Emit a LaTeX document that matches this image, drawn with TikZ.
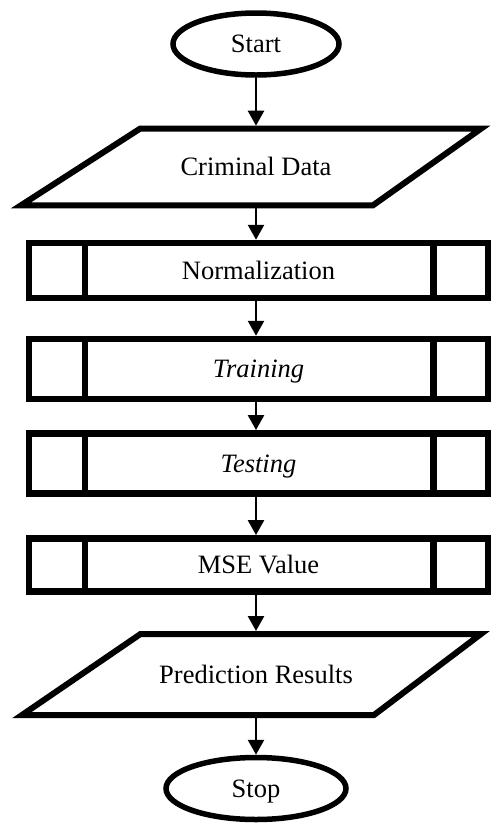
\documentclass[tikz,border=0pt]{standalone}
\usepackage{fontspec}
\setmainfont{Liberation Serif}
\usetikzlibrary{arrows.meta,shapes.geometric}
\begin{document}
\begin{tikzpicture}[x=1pt,y=1pt,
  every node/.style={font=\fontsize{26.5}{30}\selectfont, text height=17.5pt, text depth=0pt},
  terminal/.style={ellipse, draw, line width=5.5pt, minimum height=62pt, inner sep=0pt},
  iolabel/.style={rectangle, inner sep=0pt, outer sep=0pt, minimum width=10pt},
  iobox/.style={draw, line width=6pt, line join=miter},
  subproc/.style={rectangle, draw, line width=6.5pt, minimum width=459pt, inner sep=0pt},
  sideline/.style={line width=6.5pt},
  flow/.style={line width=2.5pt, -{Triangle[width=16pt,length=15pt]}}]
\useasboundingbox (0,0) rectangle (491,-823);

% terminals
\node[terminal, minimum width=166pt] (start) at (256,-44) {Start};
\node[terminal, minimum width=180pt] (stop) at (256,-788.5) {Stop};

% input / output parallelograms
\draw[iobox] (140,-128.7) -- (481,-128.7) -- (373,-205.3) -- (21,-205.3) -- cycle;
\node[iolabel, minimum height=82.6pt] (data) at (256,-167) {Criminal Data};

\draw[iobox] (140.5,-634) -- (481,-634) -- (374,-715) -- (22,-715) -- cycle;
\node[iolabel, minimum height=87pt] (pred) at (256,-674.5) {Prediction Results};

% predefined processes
\node[subproc, minimum height=55pt] (norm) at (258.5,-270.5) {Normalization};
\node[subproc, minimum height=60pt] (train) at (258.5,-369) {\itshape Training};
\node[subproc, minimum height=60pt] (test) at (258.5,-463.3) {\itshape Testing};
\node[subproc, minimum height=53.4pt] (mse) at (258.5,-565) {MSE Value};

\foreach \n in {norm,train,test,mse}{
  \draw[sideline] ([xshift=59pt]\n.north west) -- ([xshift=59pt]\n.south west);
  \draw[sideline] ([xshift=-58pt]\n.north east) -- ([xshift=-58pt]\n.south east);
}

% connectors
\draw[flow] (start.south) -- (start.south |- data.north);
\draw[flow] (data.south) -- (data.south |- norm.north);
\draw[flow] (data.south |- norm.south) -- (data.south |- train.north);
\draw[flow] (data.south |- train.south) -- (data.south |- test.north);
\draw[flow] (data.south |- test.south) -- (data.south |- mse.north);
\draw[flow] (data.south |- mse.south) -- (pred.north);
\draw[flow] (pred.south) -- (stop.north);
\end{tikzpicture}
\end{document}
